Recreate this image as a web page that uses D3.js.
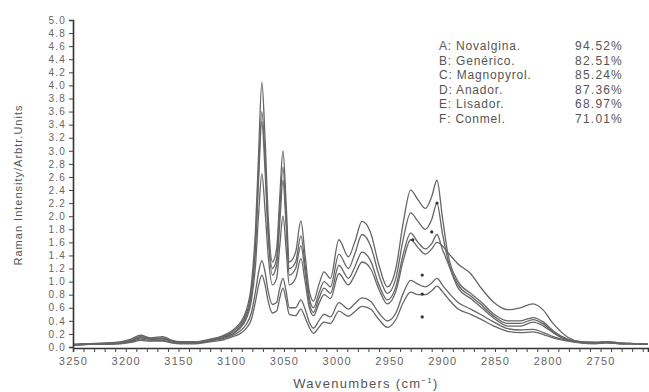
<!DOCTYPE html>
<html>
<head>
<meta charset="utf-8">
<script src="https://cdn.jsdelivr.net/npm/d3@7"></script>
<style>
  body { margin: 0; background: #fff; }
  text { font-family: "Liberation Sans", Arial, sans-serif; }
</style>
</head>
<body>
<div id="canvas"></div>
<script>
// data

const wavenumbers = [3250, 3235, 3220, 3205, 3195, 3186, 3176, 3165, 3156, 3148, 3135, 3120, 3110, 3100, 3092,
  3086, 3081, 3077, 3074, 3071, 3068, 3065, 3061, 3057, 3054, 3051, 3048, 3045, 3039, 3034, 3030, 3026, 3022,
  3017, 3012, 3006, 2998, 2989, 2983, 2976, 2968, 2960, 2952, 2944, 2937, 2930, 2923, 2916, 2910, 2905, 2900,
  2895, 2885, 2873, 2864, 2851, 2838, 2826, 2814, 2804, 2795, 2781, 2769, 2755, 2745, 2730, 2715, 2705];

const novalgina = [0.04, 0.05, 0.06, 0.08, 0.12, 0.18, 0.14, 0.16, 0.10, 0.08, 0.08, 0.12, 0.16, 0.24, 0.36,
  0.55, 0.95, 1.8, 3.0, 4.05, 3.2, 2.0, 1.3, 1.5, 2.3, 3.0, 2.2, 1.3, 1.45, 1.93, 1.4, 0.85, 0.70,
  0.95, 1.15, 1.05, 1.64, 1.38, 1.6, 1.92, 1.75, 1.25, 0.92, 1.2, 1.9, 2.40, 2.25, 2.12, 2.3, 2.55, 2.0,
  1.45, 1.0, 0.82, 0.7, 0.5, 0.4, 0.4, 0.45, 0.38, 0.25, 0.12, 0.08, 0.07, 0.08, 0.06, 0.05, 0.04];

const generico = [0.04, 0.05, 0.06, 0.07, 0.10, 0.16, 0.13, 0.14, 0.09, 0.07, 0.07, 0.11, 0.15, 0.22, 0.33,
  0.5, 0.85, 1.6, 2.7, 3.6, 2.9, 1.8, 1.2, 1.35, 2.1, 2.75, 2.0, 1.2, 1.3, 1.7, 1.25, 0.75, 0.60,
  0.82, 1.0, 0.92, 1.42, 1.2, 1.42, 1.72, 1.55, 1.1, 0.82, 1.05, 1.65, 2.05, 1.92, 1.8, 1.95, 2.2, 1.75,
  1.35, 0.95, 0.78, 0.66, 0.47, 0.36, 0.36, 0.42, 0.35, 0.23, 0.11, 0.07, 0.07, 0.07, 0.06, 0.05, 0.04];

const magnopyrol = [0.03, 0.05, 0.05, 0.07, 0.10, 0.15, 0.12, 0.13, 0.09, 0.07, 0.07, 0.10, 0.14, 0.20, 0.30,
  0.46, 0.8, 1.5, 2.6, 3.45, 2.7, 1.7, 1.1, 1.25, 1.9, 2.55, 1.85, 1.1, 1.2, 1.55, 1.15, 0.68, 0.53,
  0.74, 0.9, 0.82, 1.25, 1.05, 1.22, 1.45, 1.32, 0.95, 0.72, 0.92, 1.42, 1.74, 1.6, 1.5, 1.58, 1.72, 1.5,
  1.3, 0.9, 0.74, 0.62, 0.44, 0.32, 0.32, 0.38, 0.32, 0.22, 0.10, 0.07, 0.06, 0.07, 0.05, 0.05, 0.04];

const anador = [0.03, 0.04, 0.05, 0.07, 0.09, 0.14, 0.12, 0.12, 0.08, 0.07, 0.07, 0.10, 0.13, 0.19, 0.28,
  0.42, 0.7, 1.25, 2.05, 2.65, 2.1, 1.4, 0.95, 1.05, 1.55, 2.0, 1.5, 0.95, 1.05, 1.35, 1.0, 0.6, 0.48,
  0.66, 0.8, 0.74, 1.12, 0.95, 1.1, 1.3, 1.2, 0.88, 0.66, 0.85, 1.32, 1.64, 1.52, 1.42, 1.5, 1.6, 1.55,
  1.45, 1.27, 1.12, 0.92, 0.68, 0.57, 0.6, 0.66, 0.56, 0.36, 0.15, 0.08, 0.07, 0.08, 0.06, 0.05, 0.04];

const lisador = [0.03, 0.04, 0.05, 0.06, 0.08, 0.12, 0.10, 0.10, 0.07, 0.06, 0.06, 0.09, 0.12, 0.17, 0.24,
  0.34, 0.52, 0.85, 1.15, 1.32, 1.15, 0.85, 0.65, 0.68, 0.9, 1.05, 0.85, 0.6, 0.6, 0.72, 0.58, 0.38, 0.29,
  0.4, 0.5, 0.46, 0.68, 0.58, 0.66, 0.75, 0.7, 0.52, 0.4, 0.52, 0.82, 1.02, 0.96, 0.92, 0.98, 1.05, 0.95,
  0.85, 0.68, 0.58, 0.5, 0.38, 0.28, 0.26, 0.27, 0.22, 0.16, 0.10, 0.07, 0.06, 0.07, 0.05, 0.05, 0.04];

const conmel = [0.03, 0.04, 0.04, 0.05, 0.07, 0.10, 0.09, 0.09, 0.06, 0.05, 0.05, 0.08, 0.10, 0.15, 0.20,
  0.28, 0.42, 0.7, 0.95, 1.1, 0.95, 0.7, 0.52, 0.55, 0.75, 0.9, 0.72, 0.5, 0.48, 0.58, 0.45, 0.3, 0.21,
  0.3, 0.38, 0.36, 0.55, 0.47, 0.54, 0.62, 0.58, 0.42, 0.3, 0.42, 0.68, 0.84, 0.8, 0.8, 0.86, 0.93, 0.85,
  0.75, 0.58, 0.5, 0.43, 0.32, 0.24, 0.22, 0.23, 0.19, 0.14, 0.09, 0.06, 0.05, 0.06, 0.05, 0.05, 0.04];

const seriesList = [novalgina, generico, magnopyrol, anador, lisador, conmel];

// small dots near the 2900 doublet
const markerWn = [2905, 2910, 2928, 2919, 2919, 2919];
const markerVal = [2.20, 1.76, 1.64, 1.10, 0.81, 0.46];

const legendNames = ["A: Novalgina.", "B: Genérico.", "C: Magnopyrol.", "D: Anador.", "E: Lisador.", "F: Conmel."];
const legendValues = ["94.52%", "82.51%", "85.24%", "87.36%", "68.97%", "71.01%"];

const yTicks = d3.range(0, 26).map(i => i / 5);
const xTicks = d3.range(2710, 3251, 10);

// constants

const width = 649;
const height = 392;
const plotLeft = 73;
const plotRight = 648;
const plotTop = 20;
const plotBottom = 347;

const x = d3.scaleLinear()
    .domain([3250, 2705])
    .range([plotLeft, plotRight]);
const y = d3.scaleLinear()
    .domain([0, 5])
    .range([plotBottom, plotTop]);

const svg = d3.select('#canvas')
    .append('svg').attr('width', width).attr('height', height);

// spectra
const line = d3.line()
    .x((d, i) => x(wavenumbers[i]))
    .y(d => y(d))
    .curve(d3.curveMonotoneX);

svg.append('g')
    .attr('class', 'spectra')
    .selectAll('path')
    .data(seriesList)
    .join('path')
    .attr('d', line)
    .attr('fill', 'none')
    .attr('stroke', '#666')
    .attr('stroke-width', 1.3);

svg.append('g')
    .selectAll('circle')
    .data(markerWn)
    .join('circle')
    .attr('cx', d => x(d))
    .attr('cy', (d, i) => y(markerVal[i]))
    .attr('r', 1.6)
    .attr('fill', '#333');

// axes
const yAxis = d3.axisLeft(y)
    .tickValues(yTicks)
    .tickFormat(d3.format('.1f'))
    .tickSize(4)
    .tickPadding(3);
const xAxis = d3.axisBottom(x)
    .tickValues(xTicks)
    .tickFormat(d => d % 50 === 0 ? d : '')
    .tickSize(4)
    .tickPadding(5);

const gy = svg.append('g')
    .attr('transform', `translate(${plotLeft},0)`)
    .call(yAxis);
const gx = svg.append('g')
    .attr('transform', `translate(0,${plotBottom + 1})`)
    .call(xAxis);

[gx, gy].forEach(g => {
  g.select('.domain').attr('stroke', '#333').attr('stroke-width', 1.6);
  g.selectAll('.tick line').attr('stroke', '#444');
  g.selectAll('.tick text').attr('fill', '#666');
});
gy.selectAll('.tick text')
    .style('font-size', '10px')
    .style('letter-spacing', '1.2px');
gx.selectAll('.tick text')
    .style('font-size', '11px')
    .style('letter-spacing', '1.2px');

// axis titles
svg.append('text')
    .attr('x', 366)
    .attr('y', 388)
    .attr('text-anchor', 'middle')
    .attr('fill', '#555')
    .style('font-size', '13px')
    .style('letter-spacing', '1.3px')
    .html('Wavenumbers (cm<tspan dy="-5" font-size="8px">−1</tspan><tspan dy="5">)</tspan>');

svg.append('text')
    .attr('transform', 'translate(22,185) rotate(-90)')
    .attr('text-anchor', 'middle')
    .attr('fill', '#555')
    .style('font-size', '11px')
    .style('letter-spacing', '1px')
    .text('Raman Intensity/Arbtr.Units');

// legend
const legend = svg.append('g').attr('class', 'legend');
legend.selectAll('text.name')
    .data(legendNames)
    .join('text')
    .attr('class', 'name')
    .attr('x', 439)
    .attr('y', (d, i) => 50 + i * 14.6)
    .attr('fill', '#555')
    .style('font-size', '12px')
    .style('letter-spacing', '0.8px')
    .text(d => d);
legend.selectAll('text.val')
    .data(legendValues)
    .join('text')
    .attr('class', 'val')
    .attr('x', 623)
    .attr('y', (d, i) => 50 + i * 14.6)
    .attr('text-anchor', 'end')
    .attr('fill', '#555')
    .style('font-size', '12px')
    .style('letter-spacing', '1.2px')
    .text(d => d);
</script>
</body>
</html>
